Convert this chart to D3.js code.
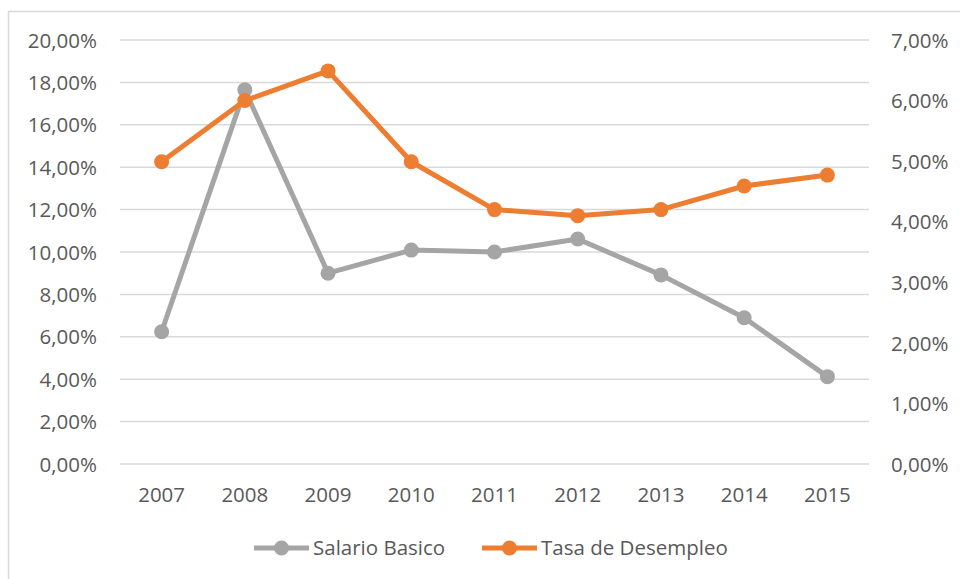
<!DOCTYPE html>
<html>
<head>
<meta charset="utf-8">
<script src="https://cdn.jsdelivr.net/npm/d3@7"></script>
<style>
  body { margin: 0; background: #fff; }
  svg text { font-family: "Open Sans", sans-serif; fill: #595959; }
</style>
</head>
<body>
<div id="graph"></div>
<script>
'use strict';

const years = ['2007', '2008', '2009', '2010', '2011', '2012', '2013', '2014', '2015'];
const salarioBasico = [6.24, 17.65, 9.0, 10.09, 10.0, 10.61, 8.92, 6.9, 4.12];
const tasaDesempleo = [4.99, 6.0, 6.49, 4.99, 4.2, 4.1, 4.2, 4.59, 4.77];
const leftTicks = [0, 2, 4, 6, 8, 10, 12, 14, 16, 18, 20];
const rightTicks = [0, 1, 2, 3, 4, 5, 6, 7];

const GREY = '#A5A5A5';
const ORANGE = '#ED7D31';
const FONT = '20.5px';

const fmt = v => v.toFixed(2).replace('.', ',') + '%';

const svg = d3.select('#graph')
  .append('svg')
  .attr('width', 960)
  .attr('height', 579);

// chart frame (cut off at right and bottom like the source)
svg.append('rect')
  .attr('x', 8.5).attr('y', 11.5)
  .attr('width', 1000).attr('height', 700)
  .attr('fill', 'none')
  .attr('stroke', '#d9d9d9')
  .attr('stroke-width', 1.5);

const plot = { left: 120, right: 869, top: 40, bottom: 464 };

const x = d3.scaleBand()
  .domain(years)
  .range([plot.left, plot.right]);

const yLeft = d3.scaleLinear().domain([0, 20]).range([plot.bottom, plot.top]);
const yRight = d3.scaleLinear().domain([0, 7]).range([plot.bottom, plot.top]);

// gridlines
svg.append('g')
  .selectAll('line')
  .data(leftTicks)
  .enter()
  .append('line')
  .attr('x1', plot.left)
  .attr('x2', plot.right)
  .attr('y1', d => yLeft(d))
  .attr('y2', d => yLeft(d))
  .attr('stroke', '#d9d9d9')
  .attr('stroke-width', 1.5);

// left axis
const leftAxis = d3.axisLeft(yLeft).tickValues(leftTicks).tickFormat(fmt).tickSize(0).tickPadding(0);
const gl = svg.append('g')
  .attr('transform', 'translate(97,0)')
  .call(leftAxis);
gl.select('.domain').remove();
gl.selectAll('text').style('font-size', FONT).attr('fill', '#595959').attr('dy', '0.35em');

// right axis
const rightAxis = d3.axisRight(yRight).tickValues(rightTicks).tickFormat(fmt).tickSize(0).tickPadding(0);
const gr = svg.append('g')
  .attr('transform', 'translate(891,0)')
  .call(rightAxis);
gr.select('.domain').remove();
gr.selectAll('text').style('font-size', FONT).attr('fill', '#595959').attr('dy', '0.35em');

// x axis
const xAxis = d3.axisBottom(x).tickSize(0).tickPadding(0);
const gx = svg.append('g')
  .attr('transform', 'translate(0,502)')
  .call(xAxis);
gx.select('.domain').remove();
gx.selectAll('text').style('font-size', FONT).attr('fill', '#595959').attr('dy', '0');

function drawSeries(values, yScale, color) {
  const line = d3.line()
    .x((d, i) => x(years[i]) + x.bandwidth() / 2)
    .y(d => yScale(d));

  svg.append('path')
    .datum(values)
    .attr('d', line)
    .attr('fill', 'none')
    .attr('stroke', color)
    .attr('stroke-width', 5)
    .attr('stroke-linejoin', 'round');

  svg.append('g')
    .selectAll('circle')
    .data(values)
    .enter()
    .append('circle')
    .attr('cx', (d, i) => x(years[i]) + x.bandwidth() / 2)
    .attr('cy', d => yScale(d))
    .attr('r', 7.5)
    .attr('fill', color);
}

drawSeries(salarioBasico, yLeft, GREY);
drawSeries(tasaDesempleo, yRight, ORANGE);

// legend
const legend = [
  { name: 'Salario Basico', color: GREY, x: 254 },
  { name: 'Tasa de Desempleo', color: ORANGE, x: 482 },
];
const lg = svg.append('g').selectAll('g')
  .data(legend)
  .enter()
  .append('g')
  .attr('transform', d => `translate(${d.x},548)`);
lg.append('line')
  .attr('x1', 0).attr('x2', 55)
  .attr('stroke', d => d.color)
  .attr('stroke-width', 5);
lg.append('circle')
  .attr('cx', 27.5).attr('r', 7.5)
  .attr('fill', d => d.color);
lg.append('text')
  .attr('x', 59)
  .attr('dy', '0.35em')
  .style('font-size', FONT)
  .text(d => d.name);
</script>
</body>
</html>
